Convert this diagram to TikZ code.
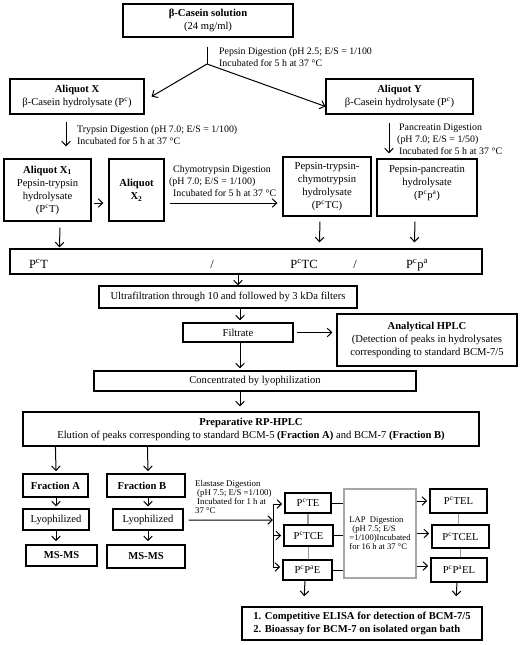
\documentclass[tikz,border=0pt]{standalone}
\usepackage{fontspec}
\setmainfont{Liberation Serif}
\usetikzlibrary{arrows.meta,calc}
\newcommand{\sps}[1]{\textsuperscript{#1}}
\newcommand{\sbs}[1]{\textsubscript{#1}}
\begin{document}
\begin{tikzpicture}[x=1pt,y=-1pt,
  box/.style={draw=black, line width=1.1pt, align=center, inner sep=1pt, font=\fontsize{10.6}{13}\selectfont},
  tbox/.style={box, line width=1.6pt},
  arr/.style={-{Straight Barb[length=4.5pt,width=8.5pt]}, line width=1pt},
  plain/.style={line width=1pt},
  ann/.style={font=\fontsize{9.9}{11.8}\selectfont, align=left, inner sep=0pt, anchor=west},
  small/.style={font=\fontsize{8.8}{9.3}\selectfont, align=left, inner sep=0pt, anchor=west},
  glink/.style={draw=black!40, line width=1.2pt},
  big/.style={font=\fontsize{12.5}{14}\selectfont, inner sep=0pt, anchor=base}]
\fill[white] (0,0) rectangle (527,645);
\useasboundingbox (0,0) rectangle (527,645);

% boxes
\node[box, minimum width=170pt, minimum height=33pt] (top) at (208,20.5) {\textbf{β-Casein solution}\\(24 mg/ml)};
\node[box, minimum width=134pt, minimum height=35pt] (aliqX) at (77,96.5) {\textbf{Aliquot X}\\β-Casein hydrolysate (P\sps{c})};
\node[box, minimum width=147pt, minimum height=35pt] (aliqY) at (399.5,96.5) {\textbf{Aliquot Y}\\β-Casein hydrolysate (P\sps{c})};
\node[box, minimum width=87pt, minimum height=62pt] (X1) at (47.5,190) {\textbf{Aliquot X\sbs{1}}\\Pepsin-trypsin\\hydrolysate\\(P\sps{c}T)};
\node[box, minimum width=55pt, minimum height=62pt] (X2) at (136.5,190) {\textbf{Aliquot}\\\textbf{X\sbs{2}}};
\node[box, minimum width=88pt, minimum height=59pt] (PTC) at (327,186.5) {Pepsin-trypsin-\\chymotrypsin\\hydrolysate\\(P\sps{c}TC)};
\node[box, minimum width=100pt, minimum height=57pt] (PP) at (427,187.5) {};
\node[box, draw=none, inner sep=0pt] (tPP) at (427,183.5) {Pepsin-pancreatin\\hydrolysate\\(P\sps{c}p\sps{a})};

\node[box, minimum width=472pt, minimum height=25pt] (mix) at (246,261.5) {};
\node[big] (m1) at (38.5,268) {P\sps{c}T};
\node[big] (m2) at (212,268) {/};
\node[big] (m3) at (304,268) {P\sps{c}TC};
\node[big] (m4) at (355,268) {/};
\node[big] (m5) at (417,268) {P\sps{c}p\sps{a}};

\node[box, minimum width=258pt, minimum height=22pt] (ultra) at (228,297) {Ultrafiltration through 10 and followed by 3 kDa filters};
\node[box, minimum width=110pt, minimum height=19pt] (filt) at (238,332.5) {Filtrate};
\node[box, minimum width=180pt, minimum height=52pt] (hplc) at (427,340) {\textbf{Analytical HPLC}\\(Detection of peaks in hydrolysates\\corresponding to standard BCM-7/5};
\node[box, minimum width=322pt, minimum height=20pt] (conc) at (255,381) {Concentrated by lyophilization};
\node[box, minimum width=456pt, minimum height=34pt] (prep) at (251,429) {\textbf{Preparative RP-HPLC}\\Elution of peaks corresponding to standard BCM-5 \textbf{(Fraction A)} and BCM-7 \textbf{(Fraction B)}};

\node[tbox, minimum width=65pt, minimum height=23pt] (fracA) at (55.5,485.5) {\textbf{Fraction A}};
\node[tbox, minimum width=78pt, minimum height=23pt] (fracB) at (146,485.5) {\textbf{Fraction B}\hspace*{8pt}};
\node[box, minimum width=66pt, minimum height=21pt] (lyoA) at (56,519.5) {Lyophilized};
\node[box, minimum width=70pt, minimum height=21pt] (lyoB) at (148,519.5) {Lyophilized};
\node[tbox, minimum width=71pt, minimum height=21pt] (msA) at (61.5,555.5) {\textbf{MS-MS}};
\node[tbox, minimum width=78pt, minimum height=23pt] (msB) at (146,556.5) {\textbf{MS-MS}};

\node[tbox, minimum width=46pt, minimum height=20pt] (pte) at (308,503) {P\sps{c}TE};
\node[tbox, minimum width=49pt, minimum height=21pt] (ptce) at (308.5,535.5) {P\sps{c}TCE};
\node[tbox, minimum width=49pt, minimum height=20pt] (ppe) at (307.5,570) {P\sps{c}P\sps{a}E};
\node[box, draw=black!35, line width=1.2pt, minimum width=72pt, minimum height=89pt, font=\fontsize{8.6}{8.9}\selectfont, align=left] (lap) at (380,533.5) {LAP~~Digestion\\\hspace*{3pt}(pH 7.5; E/S\\=1/100)Incubated\\for 16 h at 37 °C};
\node[tbox, minimum width=57pt, minimum height=24pt] (ptel) at (458.5,501) {P\sps{c}TEL};
\node[tbox, minimum width=57pt, minimum height=23pt] (ptcel) at (460.5,536.5) {P\sps{c}TCEL};
\node[tbox, minimum width=56pt, minimum height=24pt] (ppel) at (459,570) {P\sps{c}P\sps{a}EL};
\node[tbox, minimum width=240pt, minimum height=33pt, align=left] (final) at (362,623.5) {\textbf{1. Competitive ELISA for detection of BCM-7/5}\\\textbf{2. Bioassay for BCM-7 on isolated organ bath}};

% annotations
\node[ann] (tpep) at (219,57.5) {Pepsin Digestion (pH 2.5; E/S = 1/100\\Incubated for 5 h at 37 °C};
\node[ann] (ttry) at (77,135) {Trypsin Digestion (pH 7.0; E/S = 1/100)\\Incubated for 5 h at 37 °C};
\node[ann] (tpan) at (397,139.5) {\hspace*{2pt}Pancreatin Digestion\\(pH 7.0; E/S = 1/50)\\\hspace*{2pt}Incubated for 5 h at 37 °C};
\node[ann] (tchy) at (169,181) {\hspace*{4pt}Chymotrypsin Digestion\\(pH 7.0; E/S = 1/100)\\\hspace*{4pt}Incubated for 5 h at 37 °C};
\node[small] (tela) at (195,497) {Elastase Digestion\\\hspace*{2pt}(pH 7.5; E/S =1/100)\\\hspace*{2pt}Incubated for 1 h at\\37 °C};

% connectors
\coordinate (pb) at (207,64);
\draw[plain] ($(top.south)+(-1,9)$) -- (pb);
\draw[arr] (pb) -- ($(aliqX.east)+(7,0)$);
\draw[arr] (pb) -- ($(aliqY.west)+(0,10)$);
\draw[arr] ($(aliqX.south)+(-11,7)$) -- ($(X1.north)+(18.5,-12)$);
\draw[arr] ($(aliqY.south)+(-10.5,8)$) -- ($(PP.north)+(-38,-5)$);
\draw[arr] ($(X1.east)+(2,13)$) -- ($(X2.west)+(-5,13)$);
\draw[arr] ($(X2.east)+(5,13)$) -- ($(PTC.west)+(-5,16.5)$);
\draw[arr] ($(X1.south)+(12.5,6)$) -- ($(mix.north west)+(50,-1)$);
\draw[arr] ($(PTC.south)+(-7,5)$) -- ($(mix.north west)+(310,-6)$);
\draw[arr] ($(PP.south)+(-12,5)$) -- ($(mix.north west)+(405,-6)$);
\draw[arr] ($(mix.south)+(-8,0)$) -- ($(ultra.north)+(10,0)$);
\draw[arr] ($(ultra.south)+(12,0)$) -- ($(filt.north)+(2,-2)$);
\draw[arr] ($(filt.east)+(3,0)$) -- ($(hplc.west)+(-4,-7.5)$);
\draw[arr] ($(filt.south)+(2,0)$) -- ($(conc.north)+(-15,-2)$);
\draw[arr] ($(conc.south)+(-15,0)$) -- ($(prep.north)+(-11,-5)$);
\draw[arr] ($(prep.south west)+(33,0)$) -- ($(fracA.north)+(0.5,-2)$);
\draw[arr] ($(prep.south west)+(125,0)$) -- ($(fracB.north)+(2,-2)$);
\draw[arr] ($(fracA.south)+(0.5,0)$) -- ($(lyoA.north)+(0,-2)$);
\draw[arr] ($(fracB.south)+(2,0)$) -- ($(lyoB.north)+(0,-2)$);
\draw[arr] (lyoA.south) -- ($(msA.north)+(-5.5,-3)$);
\draw[arr] (lyoB.south) -- ($(msB.north)+(2,-3)$);

\coordinate (etop) at (273,504);
\coordinate (ebot) at (273,567);
\draw[plain] (etop) -- (ebot);
\draw[arr] ($(lyoB.east)+(5,0.5)$) -- ($(etop)!0.254!(ebot)$);
\draw[arr] (etop) -- ($(pte.west)+(-2,1)$);
\draw[arr] (etop |- ptce.west) -- ($(ptce.west)+(-2,0)$);
\draw[arr] (ebot) -- ($(ppe.west)+(-2,-3)$);

\draw[plain] (pte.east) -- (pte.east -| lap.west);
\draw[plain] (ptce.east) -- (ptce.east -| lap.west);
\draw[plain] (ppe.east) -- (ppe.east -| lap.west);
\draw[arr] (lap.east |- ptel.west) -- ($(ptel.west)+(-2,0)$);
\draw[arr] ($(lap.east |- ptcel.west)+(0,-3)$) -- ($(ptcel.west)+(-2,-3)$);
\draw[arr] ($(lap.east |- ppel.west)+(0,-4)$) -- ($(ppel.west)+(-2,-4)$);

\draw[glink] (pte.south) -- (pte.south |- ptce.north);
\draw[glink] (ptce.south) -- (ptce.south |- ppe.north);
\draw[glink] (ptel.south) -- (ptel.south |- ptcel.north);
\draw[glink] (ptcel.south) -- (ptcel.south |- ppel.north);

\draw[arr] ($(ppe.south)+(-2.5,0)$) -- ($(final.north west)+(63,-10)$);
\draw[arr] ($(ppel.south)+(-2,0)$) -- ($(final.north west)+(215,-10)$);
\end{tikzpicture}
\end{document}
